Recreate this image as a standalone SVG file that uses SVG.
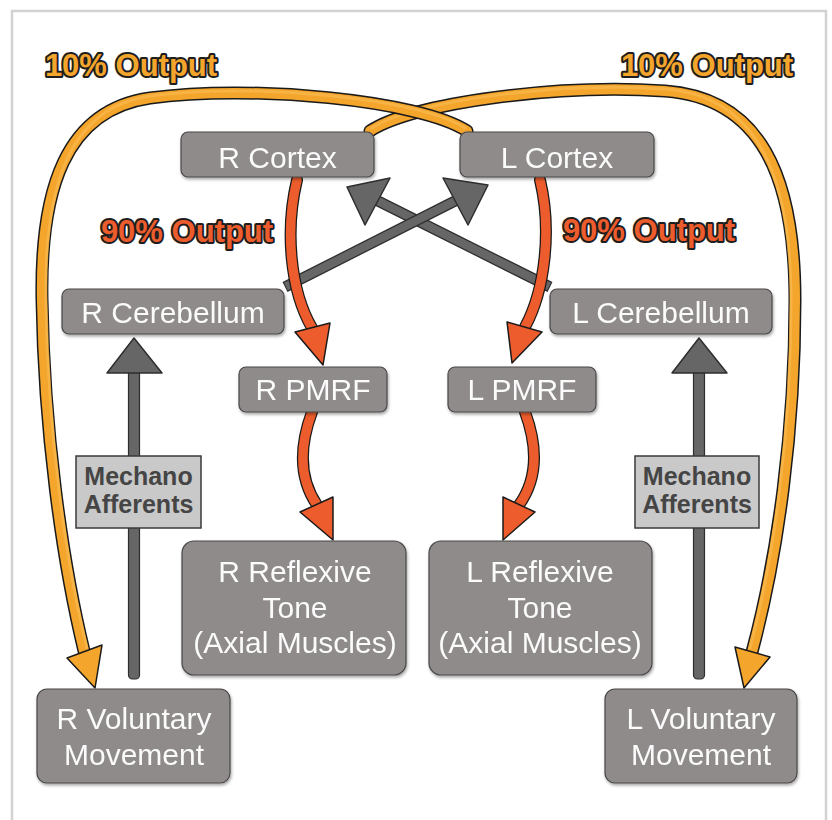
<svg xmlns="http://www.w3.org/2000/svg" width="832" height="820" viewBox="0 0 832 820">
<defs>
<filter id="sh" x="-10%" y="-10%" width="130%" height="140%"><feDropShadow dx="1" dy="2" stdDeviation="1.5" flood-color="#000" flood-opacity="0.35"/></filter>
<style>
.node rect{fill:#8f8b8a;stroke:#4a4848;stroke-width:1.2}
.node text{font-family:"Liberation Sans",Arial,sans-serif;font-size:30px;fill:#fbfbfb;text-anchor:middle}
.mech rect{fill:#c9c9c9;stroke:#3a3a3a;stroke-width:1.5}
.mech text{font-family:"Liberation Sans",Arial,sans-serif;font-weight:bold;font-size:25px;fill:#454545;text-anchor:middle}
.lbl{font-family:"Liberation Sans",Arial,sans-serif;font-weight:bold;font-size:31px;text-anchor:middle;stroke:#1e1e1e;stroke-width:4;paint-order:stroke;stroke-linejoin:round}
.o-out{fill:none;stroke:#1a1a1a;stroke-width:13;stroke-linecap:round}
.o-in{fill:none;stroke:#f4a52c;stroke-width:10;stroke-linecap:round}
.o-hl{fill:none;stroke:#f9bd55;stroke-width:3;stroke-linecap:round;opacity:0.6}
.o-head{fill:#f4a52c;stroke:#1a1a1a;stroke-width:1.5;stroke-linejoin:round}
.r-out{fill:none;stroke:#1a1a1a;stroke-width:12;stroke-linecap:round}
.r-in{fill:none;stroke:#ec5c2c;stroke-width:9.5;stroke-linecap:round}
.r-head{fill:#ec5c2c;stroke:#1a1a1a;stroke-width:1.5;stroke-linejoin:round}
.g-out{fill:none;stroke:#2e2e2e;stroke-width:11}
.g-in{fill:none;stroke:#666;stroke-width:8.5}
.g-head{fill:#666;stroke:#2e2e2e;stroke-width:1.5;stroke-linejoin:round}
</style>
</defs>
<rect x="12" y="11" width="814" height="830" fill="#fff" stroke="#d2d2d2" stroke-width="2.5"/>

<g id="connectors">
  <g id="mech-r-arrow">
    <rect x="128.5" y="370" width="11" height="309" rx="4" fill="#666" stroke="#2e2e2e" stroke-width="1.2"/>
    <polygon class="g-head" points="107,373 162,373 134,338"/>
  </g>
  <g id="mech-l-arrow">
    <rect x="693.5" y="370" width="11" height="309" rx="4" fill="#666" stroke="#2e2e2e" stroke-width="1.2"/>
    <polygon class="g-head" points="672,373 727,373 699,338"/>
  </g>
  <g id="lcb-rcx">
    <path class="g-out" d="M550,287 L378,201"/>
    <path class="g-in" d="M549,286.5 L378,201"/>
    <polygon class="g-head" points="347,187 390,178 365,225"/>
  </g>
  <g id="rcb-lcx">
    <path class="g-out" d="M285,287 L455,201"/>
    <path class="g-in" d="M286,286.5 L455,201"/>
    <polygon class="g-head" points="488,185 443,178 468,225"/>
  </g>
  <g id="rcx-rpmrf">
    <path class="r-out" d="M297,180 C285,230 290,290 312,328"/>
    <path class="r-in" d="M297,180 C285,230 290,290 312,328"/>
    <polygon class="r-head" points="295,332 330,323 323,365"/>
  </g>
  <g id="lcx-lpmrf">
    <path class="r-out" d="M540,180 C552,230 545,290 525,327"/>
    <path class="r-in" d="M540,180 C552,230 545,290 525,327"/>
    <polygon class="r-head" points="507,322 542,332 512,363"/>
  </g>
  <g id="rpmrf-rrt">
    <path class="r-out" d="M312,412 C298,450 300,480 317,505"/>
    <path class="r-in" d="M312,412 C298,450 300,480 317,505"/>
    <polygon class="r-head" points="300,512 333,497 333,540"/>
  </g>
  <g id="lpmrf-lrt">
    <path class="r-out" d="M525,412 C539,450 537,480 519,505"/>
    <path class="r-in" d="M525,412 C539,450 537,480 519,505"/>
    <polygon class="r-head" points="503,497 535,512 503,540"/>
  </g>
  <g id="rcx-lvm">
    <path class="o-out" d="M370,131 C415,102 560,84 665,91 C760,98 795,175 795,300 C795,430 778,555 752,652"/>
    <path class="o-in" d="M370,131 C415,102 560,84 665,91 C760,98 795,175 795,300 C795,430 778,555 752,652"/>
    <path class="o-hl" d="M372,128 C415,100 560,82 665,89 C757,96 791,175 791,300 C791,430 775,555 750,648"/>
    <polygon class="o-head" points="735,647 770,657 744,688"/>
  </g>
  <g id="lcx-rvm">
    <path class="o-out" d="M467,131 C420,100 250,84 150,98 C65,110 40,190 42,300 C44,430 62,560 84,651"/>
    <path class="o-in" d="M467,131 C420,100 250,84 150,98 C65,110 40,190 42,300 C44,430 62,560 84,651"/>
    <path class="o-hl" d="M465,128 C420,98 250,82 150,96 C67,108 44,190 46,300 C48,430 65,560 87,648"/>
    <polygon class="o-head" points="67,658 102,645 95,688"/>
  </g>
</g>

<g id="labels">
  <text class="lbl" x="131" y="76" fill="#f4a52c">10% Output</text>
  <text class="lbl" x="707" y="76" fill="#f4a52c">10% Output</text>
  <text class="lbl" x="187" y="242" fill="#ec5c2c">90% Output</text>
  <text class="lbl" x="649" y="241" fill="#ec5c2c">90% Output</text>
</g>

<g id="r-cortex" class="node" filter="url(#sh)"><rect x="181" y="132" width="193" height="45" rx="7"/><text x="277.5" y="168">R Cortex</text></g>
<g id="l-cortex" class="node" filter="url(#sh)"><rect x="460" y="132" width="194" height="45" rx="7"/><text x="557" y="168">L Cortex</text></g>
<g id="r-cerebellum" class="node" filter="url(#sh)"><rect x="62" y="289" width="222" height="45" rx="7"/><text x="173" y="323">R Cerebellum</text></g>
<g id="l-cerebellum" class="node" filter="url(#sh)"><rect x="550" y="289" width="222" height="45" rx="7"/><text x="661" y="323">L Cerebellum</text></g>
<g id="r-pmrf" class="node" filter="url(#sh)"><rect x="239" y="367" width="148" height="45" rx="7"/><text x="313" y="400">R PMRF</text></g>
<g id="l-pmrf" class="node" filter="url(#sh)"><rect x="448" y="367" width="148" height="45" rx="7"/><text x="522" y="400">L PMRF</text></g>
<g id="r-reflexive" class="node" filter="url(#sh)"><rect x="182" y="541" width="224" height="134" rx="12"/><text x="295" y="582">R Reflexive</text><text x="295" y="618">Tone</text><text x="295" y="653">(Axial Muscles)</text></g>
<g id="l-reflexive" class="node" filter="url(#sh)"><rect x="429" y="541" width="223" height="134" rx="12"/><text x="540" y="582">L Reflexive</text><text x="540" y="618">Tone</text><text x="540" y="653">(Axial Muscles)</text></g>
<g id="r-voluntary" class="node" filter="url(#sh)"><rect x="37" y="689" width="193" height="94" rx="10"/><text x="134" y="729">R Voluntary</text><text x="134" y="765">Movement</text></g>
<g id="l-voluntary" class="node" filter="url(#sh)"><rect x="605" y="689" width="192" height="94" rx="10"/><text x="701" y="729">L Voluntary</text><text x="701" y="765">Movement</text></g>
<g id="mechano-r" class="mech"><rect x="76" y="456" width="125" height="72"/><text x="138.5" y="485">Mechano</text><text x="138.5" y="513">Afferents</text></g>
<g id="mechano-l" class="mech"><rect x="635" y="456" width="124" height="72"/><text x="697" y="485">Mechano</text><text x="697" y="513">Afferents</text></g>
</svg>
